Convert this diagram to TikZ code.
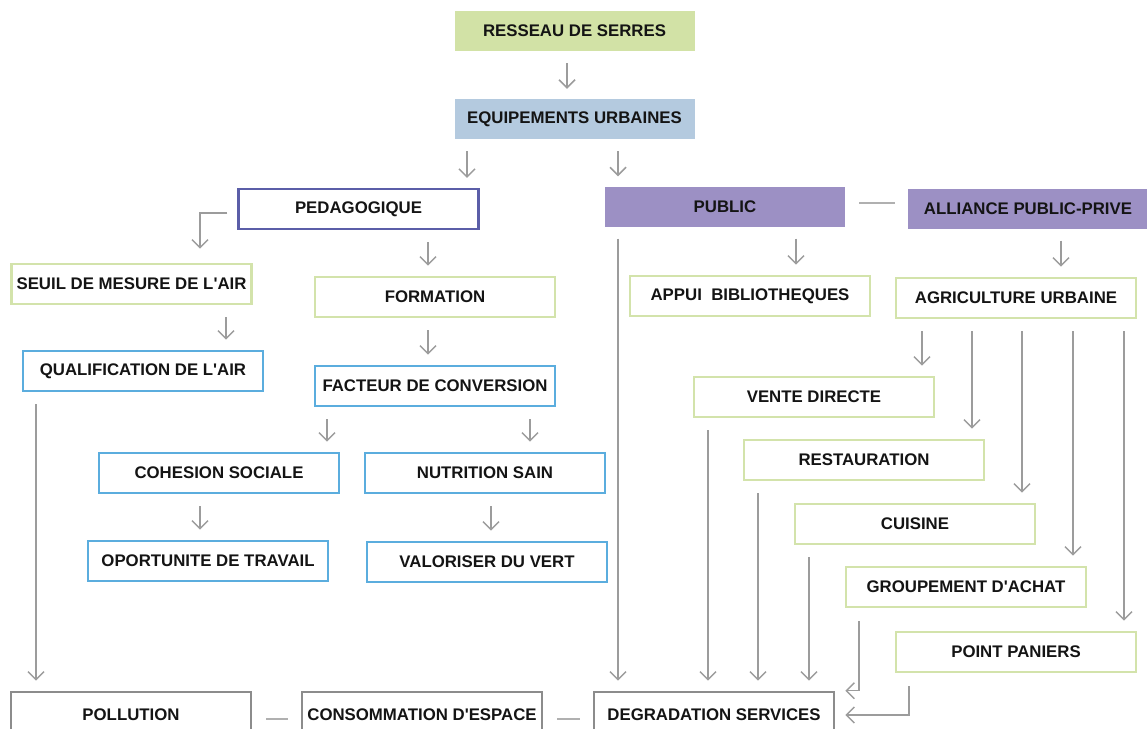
\documentclass[tikz,border=0pt]{standalone}
\usepackage{fontspec}
\setmainfont{Liberation Sans}
\usetikzlibrary{arrows.meta}

\definecolor{serregreen}{HTML}{D2E2A6}
\definecolor{urbanblue}{HTML}{B4CADF}
\definecolor{mauve}{HTML}{9C90C4}
\definecolor{linegreen}{HTML}{D3E3AB}
\definecolor{lineblue}{HTML}{5BADDE}
\definecolor{indigo}{HTML}{5B5EA8}
\definecolor{linegrey}{HTML}{8C8C8C}
\definecolor{arrowgrey}{HTML}{9C9C9C}

\newcommand{\apos}{\textquotesingle}

\begin{document}
\begin{tikzpicture}[x=1pt,y=-1pt,
    >={Straight Barb[length=8pt,width=16pt]},
    box/.style={minimum width=240pt, minimum height=40pt, inner sep=0pt,
      font=\fontsize{16.8}{19}\selectfont\bfseries, text=black!92},
    greenfill/.style={box, fill=serregreen},
    bluefill/.style={box, fill=urbanblue},
    mauvefill/.style={box, fill=mauve},
    indigobox/.style={box, draw=indigo, line width=2.2pt},
    greenbox/.style={box, draw=linegreen, line width=2.6pt},
    bluebox/.style={box, draw=lineblue, line width=2.6pt},
    greybox/.style={box, draw=linegrey, line width=2.6pt, minimum height=46pt},
    arr/.style={->, draw=arrowgrey, line width=1.5pt, shorten <=12pt, shorten >=10pt},
    link/.style={draw=arrowgrey!80, line width=1.6pt, shorten <=14pt, shorten >=13pt}]

  \useasboundingbox (0,0) rectangle (1147,728);
  \clip (0,0) rectangle (1147,728);

  % top of the tree
  \node[greenfill] (res) at (574.5,31) {RESSEAU DE SERRES};
  \node[bluefill]  (equ) at (574.5,119) {EQUIPEMENTS URBAINES};

  \node[indigobox] (ped) at (358.5,209) {PEDAGOGIQUE};
  \node[mauvefill] (pub) at (725,206.5) {PUBLIC};
  \node[mauvefill] (all) at (1028,208.5) {ALLIANCE PUBLIC-PRIVE};

  % left branch
  \node[greenbox] (seuil) at (131.5,284) {SEUIL DE MESURE DE L\apos AIR};
  \node[greenbox] (form)  at (435,297) {FORMATION};
  \node[bluebox]  (qual)  at (143,371) {QUALIFICATION DE L\apos AIR};
  \node[bluebox]  (fact)  at (435,386) {FACTEUR DE CONVERSION};
  \node[bluebox]  (coh)   at (219,473) {COHESION SOCIALE};
  \node[bluebox]  (nut)   at (485,473) {NUTRITION SAIN};
  \node[bluebox]  (opo)   at (208,561) {OPORTUNITE DE TRAVAIL};
  \node[bluebox]  (val)   at (487,562) {VALORISER DU VERT};

  % right branch
  \node[greenbox] (app)  at (750,296) {APPUI~~BIBLIOTHEQUES};
  \node[greenbox] (agr)  at (1016,298) {AGRICULTURE URBAINE};
  \node[greenbox] (ven)  at (814,397) {VENTE DIRECTE};
  \node[greenbox] (rest) at (864,460) {RESTAURATION};
  \node[greenbox] (cui)  at (915,524) {CUISINE};
  \node[greenbox] (grp)  at (966,587) {GROUPEMENT D\apos ACHAT};
  \node[greenbox] (pts)  at (1016,652) {POINT PANIERS};

  % bottom row
  \node[greybox] (poll) at (131,715) {POLLUTION};
  \node[greybox] (cons) at (422,715) {CONSOMMATION D\apos ESPACE};
  \node[greybox] (deg)  at (714,715) {DEGRADATION SERVICES};

  % straight arrows
  \foreach \a/\b/\x in {res/equ/567, equ/ped/467, equ/pub/618, ped/form/428,
      seuil/qual/226, form/fact/428, qual/poll/36, fact/coh/327, fact/nut/530,
      coh/opo/200, nut/val/491, pub/deg/618, pub/app/796, all/agr/1061,
      agr/ven/922, agr/rest/972, agr/cui/1022, agr/grp/1073, agr/pts/1124,
      ven/deg/708, rest/deg/758, cui/deg/809}{
    \draw[arr] (\a.south -| \x,0) -- (\b.north -| \x,0);
  }

  % bent arrows
  \draw[arr, shorten <=10pt, shorten >=14pt] (ped.west |- 0,213) -| (seuil.north -| 200,0);
  \draw[arr, shorten <=13pt] (grp.south -| 859,0) |- (deg.north east);
  \draw[arr, shorten <=13pt] (pts.south -| 909,0) |- (deg.east);

  % plain links
  \draw[link] (pub.east |- 0,203) -- (all.west |- 0,203);
  \draw[link] (poll.east |- 0,719) -- (cons.west |- 0,719);
  \draw[link] (cons.east |- 0,719) -- (deg.west |- 0,719);

\end{tikzpicture}
\end{document}
